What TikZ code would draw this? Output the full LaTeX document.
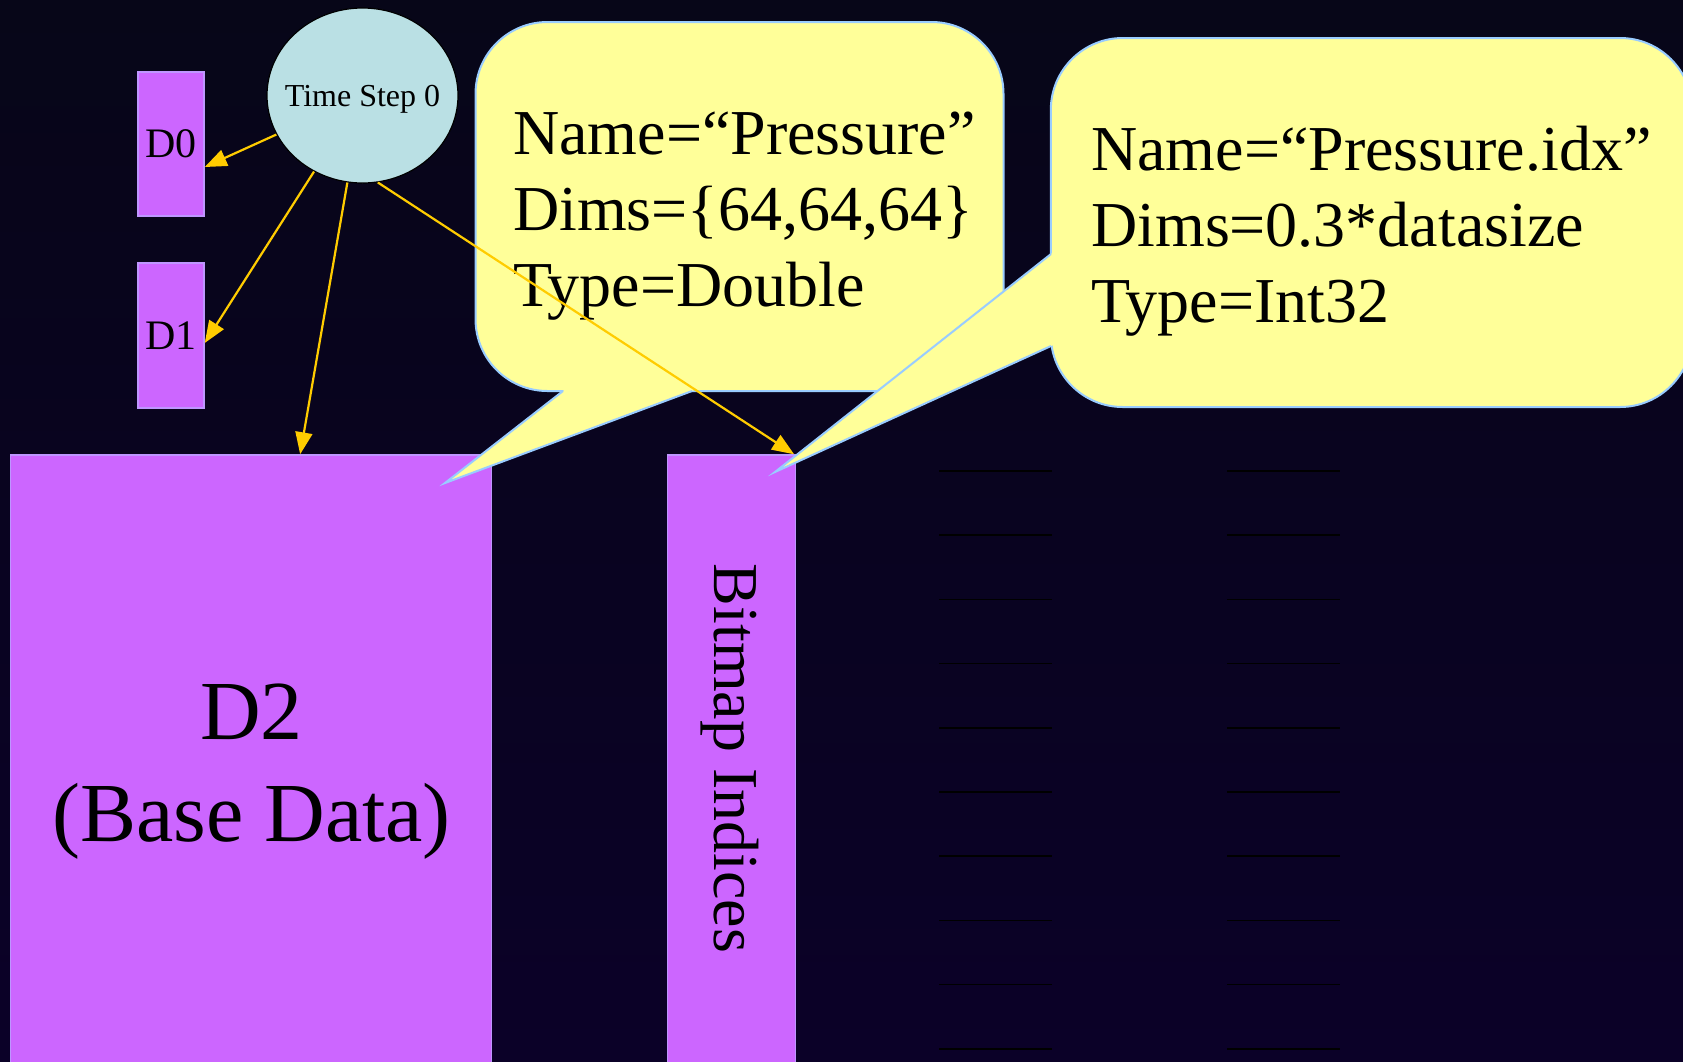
\documentclass[tikz,border=0pt]{standalone}
\usepackage{fontspec}
\setmainfont{Liberation Serif}
\usetikzlibrary{arrows.meta,shapes.geometric}
\definecolor{bgtop}{RGB}{7,6,24}
\definecolor{bgbot}{RGB}{11,1,40}
\definecolor{boxfill}{RGB}{204,102,255}
\definecolor{boxline}{RGB}{190,150,255}
\definecolor{ellfill}{RGB}{186,224,228}
\definecolor{callfill}{RGB}{255,255,153}
\definecolor{callline}{RGB}{153,204,255}
\definecolor{arrowcol}{RGB}{255,204,0}
\begin{document}
\begin{tikzpicture}[x=1pt,y=-1pt,
  databox/.style={rectangle,draw=boxline,fill=boxfill,line width=1.5pt,inner sep=0pt},
  tstep/.style={ellipse,draw=black,fill=ellfill,line width=1.2pt,inner xsep=-11pt,inner ysep=0pt},
  callbox/.style={draw=callline,fill=callfill,line width=2pt,rounded corners=72pt},
  wedgefill/.style={fill=callfill},
  wedgeline/.style={draw=callline,line width=2pt},
  calltext/.style={anchor=base west,inner sep=0pt,font=\fontsize{64}{76}\selectfont},
  bigtext/.style={anchor=base,inner sep=0pt,font=\fontsize{84}{100}\selectfont},
  link/.style={draw=arrowcol,line width=2.2pt,-{Triangle[length=22pt,width=17pt]}},
  rowline/.style={draw=black,line width=1.5pt}
]
\useasboundingbox (0,0) rectangle (1683,1061);
\shade[top color=bgtop,bottom color=bgbot] (0,0) rectangle (1683,1061);
\clip (0,0) rectangle (1683,1061);

% row lines at right
\foreach \i in {0,...,9}{
  \draw[rowline] (939,{471+64.2*\i}) -- (1052,{471+64.2*\i});
  \draw[rowline] (1227,{471+64.2*\i}) -- (1340,{471+64.2*\i});
}

% data boxes
\node[databox,minimum width=66pt,minimum height=144pt,font=\fontsize{42}{48}\selectfont] (d0) at (171,144) {D0};
\node[databox,minimum width=66pt,minimum height=145pt,font=\fontsize{42}{48}\selectfont] (d1) at (171,335.5) {D1};
\node[databox,minimum width=481pt,minimum height=700pt] (d2) at (251.15,805) {};
\node[databox,minimum width=127.7pt,minimum height=700pt] (bm) at (731.5,805) {};
\node[bigtext] (d2a) at (251.5,739) {D2};
\node[bigtext] (d2b) at (251.5,841) {(Base Data)};
\node[rotate=-90,inner sep=0pt,font=\fontsize{64}{76}\selectfont] (bmt) at (729.6,758.5) {Bitmap Indices};

% time step
\node[tstep,minimum width=191pt,minimum height=175pt,font=\fontsize{32}{38}\selectfont,text height=22pt,text depth=0pt] (ts) at (362.5,95.5) {Time Step 0};

% callout 1
\draw[callbox] (475.5,22) rectangle (1003.5,391);
\coordinate (c1tip) at (445,483);
\fill[wedgefill] (570.7,385) -- (c1tip) -- (708,385) -- cycle;
\draw[wedgeline] (563,391) -- (c1tip) -- (692,391);
\node[calltext] (c1a) at (513,154) {Name=“Pressure”};
\node[calltext] (c1b) at (513,230) {Dims=\{64,64,64\}};
\node[calltext] (c1c) at (513,306) {Type=Double};

% callout 2
\draw[callbox] (1050.8,38) rectangle (1692,407);
\coordinate (c2tip) at (775,472);
\fill[wedgefill] (1058,248.5) -- (c2tip) -- (1058,342.8) -- cycle;
\draw[wedgeline] (1051,254) -- (c2tip) -- (1051,346);
\node[calltext] (c2a) at (1091,170) {Name=“Pressure.idx”};
\node[calltext] (c2b) at (1091,246.5) {Dims=0.3*datasize};
\node[calltext] (c2c) at (1091,322) {Type=Int32};

% arrows
\coordinate (d0tip) at ([yshift=-23pt]d0.east);
\coordinate (d1tip) at ([yshift=-7.5pt]d1.east);
\coordinate (d2tip) at ([xshift=49pt]d2.north);
\coordinate (bmtip) at ([xshift=-2pt]bm.north east);
\draw[link] (ts) -- (d0tip);
\draw[link] (ts) -- (d1tip);
\draw[link] (ts) -- (d2tip);
\draw[link] (ts.-80) -- (bmtip);
\end{tikzpicture}
\end{document}
